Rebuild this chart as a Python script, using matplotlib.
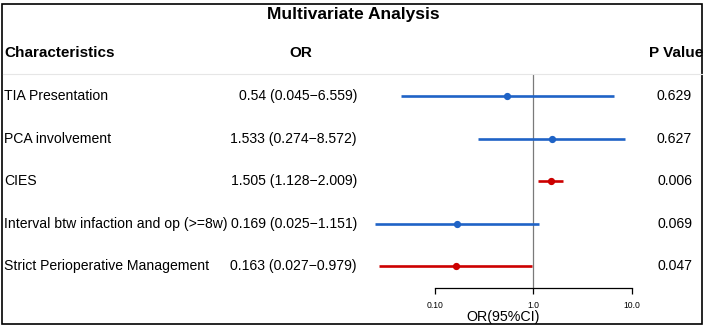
import numpy as np
import matplotlib.pyplot as plt
from matplotlib.patches import Rectangle

plt.rcParams['font.family'] = ['Liberation Sans', 'DejaVu Sans']

labels = ["TIA Presentation", "PCA involvement", "CIES",
          "Interval btw infaction and op (>=8w)", "Strict Perioperative Management"]
or_est = [0.54, 1.533, 1.505, 0.169, 0.163]
ci_low = [0.045, 0.274, 1.128, 0.025, 0.027]
ci_high = [6.559, 8.572, 2.009, 1.151, 0.979]
p_vals = [0.629, 0.627, 0.006, 0.069, 0.047]
tick_vals = [0.1, 1.0, 10.0]
tick_labels = ["0.10", "1.0", "10.0"]

W, H = 707, 328
fig = plt.figure(figsize=(W / 100, H / 100), dpi=100)
fig.patch.set_facecolor('white')


def fx(x):
    return x / W


def fy(y):
    return 1 - y / H


blue = '#1f63c6'
red = '#cc0000'

# row positions (pixels from top)
row_top = 96
row_gap = 42.6
rows_px = [row_top + i * row_gap for i in range(len(labels))]

# forest panel: 1.0 sits at x=533, one decade = 98.5 px
x0_px, decade = 533.3, 98.5
ax_left, ax_right = 360, 650
ax_top, ax_bot = 74, 288
ax = fig.add_axes([fx(ax_left), fy(ax_bot), fx(ax_right - ax_left), (ax_bot - ax_top) / H])
ax.set_xscale('log')
ax.set_xlim(10 ** ((ax_left - x0_px) / decade), 10 ** ((ax_right - x0_px) / decade))
ax.set_ylim((ax_bot - row_top) / row_gap, (ax_top - row_top) / row_gap)
ax.patch.set_alpha(0)

for i in range(len(labels)):
    c = red if p_vals[i] < 0.05 else blue
    ax.plot([ci_low[i], ci_high[i]], [i, i], color=c, lw=1.9, solid_capstyle='butt', zorder=3)
    ax.plot(or_est[i], i, 'o', color=c, ms=4.2, zorder=4)

ax.axvline(1.0, color='#7a7a7a', lw=0.9, zorder=2)

for s in ['top', 'right', 'left']:
    ax.spines[s].set_visible(False)
ax.spines['bottom'].set_bounds(tick_vals[0], tick_vals[-1])
ax.spines['bottom'].set_linewidth(0.9)
ax.set_yticks([])
ax.set_xticks(tick_vals)
ax.set_xticklabels(tick_labels, fontsize=6.2)
ax.minorticks_off()
ax.tick_params(axis='x', direction='out', length=4, width=0.9, pad=5)

# axis title under the tick labels
fig.text(fx(503), fy(317), "OR(95%CI)", fontsize=10.3, ha='center', va='center')

# title and header row
fig.text(0.5, fy(15), "Multivariate Analysis", fontsize=12.5, fontweight='bold',
         ha='center', va='center')
fig.text(fx(4), fy(53), "Characteristics", fontsize=11, fontweight='bold', ha='left', va='center')
fig.text(fx(301), fy(53), "OR", fontsize=11, fontweight='bold', ha='center', va='center')
fig.text(fx(703), fy(53), "P Value", fontsize=11, fontweight='bold', ha='right', va='center')
fig.add_artist(plt.Line2D([fx(3), fx(702)], [fy(74), fy(74)], color='#e6e6e6', lw=0.8))

for i, y in enumerate(rows_px):
    fig.text(fx(4), fy(y), labels[i], fontsize=10.1, ha='left', va='center')
    or_txt = f"{or_est[i]} ({ci_low[i]}\u2212{ci_high[i]})"
    fig.text(fx(357), fy(y), or_txt, fontsize=10.1, ha='right', va='center')
    fig.text(fx(692), fy(y), f"{p_vals[i]:.3f}", fontsize=10.1, ha='right', va='center')

# outer frame
fig.add_artist(Rectangle((fx(2), fy(324)), fx(700), (324 - 4) / H, fill=False,
                         edgecolor='black', lw=1.2, transform=fig.transFigure))

fig.savefig("out.png", dpi=100)
